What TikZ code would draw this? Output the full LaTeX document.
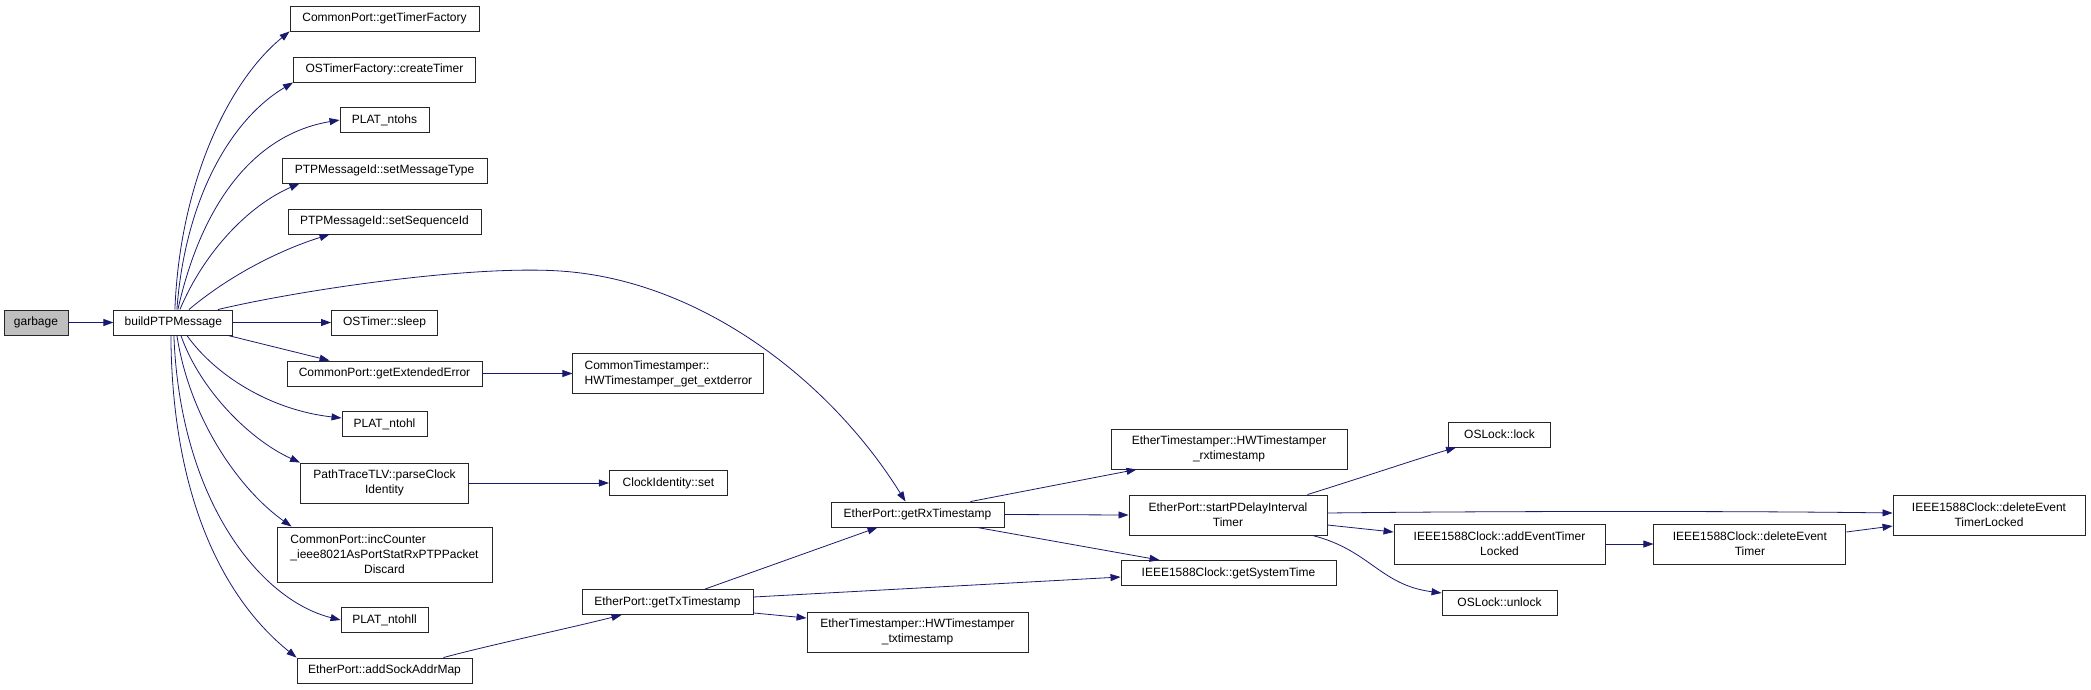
\documentclass[tikz,border=0pt]{standalone}
\usepackage{fontspec}
\setmainfont{Liberation Sans}
\usetikzlibrary{arrows.meta, positioning}

\definecolor{edgeblue}{HTML}{191970}
\definecolor{rootgray}{HTML}{BFBFBF}

\begin{document}
\begin{tikzpicture}[
    x=1pt, y=-1pt,
    box/.style={
        rectangle,
        draw=black!85,
        line width=0.9pt,
        align=center,
        inner sep=2pt,
        minimum height=25pt,
        font=\fontsize{12}{15}\selectfont
    },
    tallbox/.style={
        box,
        minimum height=40pt
    },
    arrow/.style={
        draw=edgeblue,
        line width=0.8pt,
        -{Triangle[length=10pt,width=7pt]}
    }
]

\useasboundingbox (0,0) rectangle (2091,689);

% ------------------------------------------------
% Caller and first callee
% ------------------------------------------------

\node[box, fill=rootgray, minimum width=64pt] (garbage) at (36,322.5) {garbage};

\node[box, minimum width=119pt, right=45pt of garbage] (build) {buildPTPMessage};

% ------------------------------------------------
% Functions called by buildPTPMessage
% ------------------------------------------------

\node[box, minimum width=189pt] (timerfac) at (384.5,18.5) {CommonPort::getTimerFactory};
\node[box, minimum width=182pt] (createtimer) at (384.5,69.5) {OSTimerFactory::createTimer};
\node[box, minimum width=89pt] (ntohs) at (384.5,120) {PLAT\_ntohs};
\node[box, minimum width=205pt] (msgtype) at (384.5,170.5) {PTPMessageId::setMessageType};
\node[box, minimum width=193pt] (seqid) at (384.5,221.5) {PTPMessageId::setSequenceId};
\node[box, minimum width=106pt] (sleep) at (384.5,322.5) {OSTimer::sleep};
\node[box, minimum width=195pt] (exterror) at (384.5,373.5) {CommonPort::getExtendedError};
\node[box, minimum width=85pt] (ntohl) at (384.5,424) {PLAT\_ntohl};

\node[tallbox, minimum width=168pt] (parseclock) at (384.5,483) {
    PathTraceTLV::parseClock\\
    Identity
};

\node[box, minimum width=215pt, minimum height=55pt] (inccounter) at (384.5,554.5) {
    \rlap{CommonPort::incCounter}\phantom{\_ieee8021AsPortStatRxPTPPacket}\\
    \_ieee8021AsPortStatRxPTPPacket\\
    Discard
};

\node[box, minimum width=87pt] (ntohll) at (384.5,620) {PLAT\_ntohll};
\node[box, minimum width=175pt] (addsock) at (384.5,670.5) {EtherPort::addSockAddrMap};

% ------------------------------------------------
% Third rank
% ------------------------------------------------

\node[tallbox, align=left, minimum width=191pt, right=90pt of exterror] (extderror) {
    CommonTimestamper::\\
    HWTimestamper\_get\_extderror
};

\node[box, minimum width=118pt, right=140pt of parseclock] (clockset) {ClockIdentity::set};

\node[box, minimum width=171pt] (txts) at (667.5,602) {EtherPort::getTxTimestamp};

% ------------------------------------------------
% Timestamp functions
% ------------------------------------------------

\node[box, minimum width=173pt] (rxts) at (917.5,514.5) {EtherPort::getRxTimestamp};

\node[tallbox, minimum width=221pt] (hwtx) at (917.5,632) {
    EtherTimestamper::HWTimestamper\\
    \_txtimestamp
};

\node[tallbox, minimum width=236pt] (hwrx) at (1229,449) {
    EtherTimestamper::HWTimestamper\\
    \_rxtimestamp
};

\node[tallbox, minimum width=198pt] (pdelay) at (1228,515) {
    EtherPort::startPDelayInterval\\
    Timer
};

\node[box, minimum width=215pt] (systime) at (1228.5,573) {IEEE1588Clock::getSystemTime};

% ------------------------------------------------
% Locks and event timers
% ------------------------------------------------

\node[box, minimum width=102pt] (lock) at (1499.5,434.5) {OSLock::lock};

\node[tallbox, minimum width=211pt] (addevent) at (1499.5,544) {
    IEEE1588Clock::addEventTimer\\
    Locked
};

\node[box, minimum width=115pt] (unlock) at (1499.5,602.5) {OSLock::unlock};

\node[tallbox, minimum width=192pt, right=48pt of addevent] (delevent) {
    IEEE1588Clock::deleteEvent\\
    Timer
};

\node[tallbox, minimum width=192pt] (dellocked) at (1989,515) {
    IEEE1588Clock::deleteEvent\\
    TimerLocked
};

% ------------------------------------------------
% Arrows: straight calls
% ------------------------------------------------

\draw[arrow] (garbage) -- (build);
\draw[arrow] (build) -- (sleep);
\draw[arrow] (exterror) -- (extderror);
\draw[arrow] (parseclock) -- (clockset);
\draw[arrow] ([xshift=54.5pt]build.south) -- ([xshift=43pt]exterror.north west);

% ------------------------------------------------
% Arrows: fan out above buildPTPMessage
% ------------------------------------------------

\draw[arrow] ([xshift=1.5pt]build.north) .. controls (180,180) and (230,80) .. (timerfac.south west);
\draw[arrow] ([xshift=3.5pt]build.north) .. controls (185,200) and (230,120) .. (createtimer.south west);
\draw[arrow] ([xshift=4.5pt]build.north) .. controls (200,210) and (250,135) .. (ntohs.west);
\draw[arrow] ([xshift=6.5pt]build.north) .. controls (205,250) and (250,205) .. ([xshift=18pt]msgtype.south west);
\draw[arrow] ([xshift=15.5pt]build.north) .. controls (230,275) and (280,250) .. ([xshift=42pt]seqid.south west);

\draw[arrow] ([xshift=44.5pt]build.north) .. controls (300,290) and (470,265) .. (560,271)
    .. controls (700,280) and (830,380) .. ([xshift=-12pt]rxts.north);

% ------------------------------------------------
% Arrows: fan out below buildPTPMessage
% ------------------------------------------------

\draw[arrow] ([xshift=13.5pt]build.south) .. controls (215,375) and (270,410) .. ([yshift=6pt]ntohl.west);
\draw[arrow] ([xshift=7.5pt]build.south) .. controls (200,390) and (250,440) .. (parseclock.north west);
\draw[arrow] ([xshift=3.5pt]build.south) .. controls (190,420) and (240,490) .. ([xshift=15pt]inccounter.north west);
\draw[arrow] ([xshift=0.5pt]build.south) .. controls (180,500) and (260,600) .. (ntohll.west);
\draw[arrow] ([xshift=-2.5pt]build.south) .. controls (172,500) and (225,600) .. (addsock.north west);

% ------------------------------------------------
% Arrows: timestamp branch
% ------------------------------------------------

\draw[arrow] ([xshift=-29pt]addsock.north east) .. controls (490,645) and (570,628) .. ([xshift=40pt]txts.south west);
\draw[arrow] ([xshift=37.5pt]txts.north) -- ([xshift=-40pt]rxts.south);
\draw[arrow] ([yshift=5pt]txts.east) -- ([yshift=-4pt]systime.west);
\draw[arrow] ([yshift=2pt]txts.south east) -- ([yshift=14pt]hwtx.west);

\draw[arrow] ([xshift=-34pt]rxts.north east) -- ([xshift=26pt]hwrx.south west);
\draw[arrow] (rxts.east) -- (pdelay.west);
\draw[arrow] ([xshift=59.5pt]rxts.south) -- ([xshift=39pt]systime.north west);

% ------------------------------------------------
% Arrows: interval timer
% ------------------------------------------------

\draw[arrow] ([xshift=-20pt]pdelay.north east) .. controls (1370,475) and (1420,458) .. ([xshift=8pt]lock.south west);
\draw[arrow] ([yshift=2pt]pdelay.east) .. controls (1500,511) and (1750,511) .. ([yshift=2pt]dellocked.west);
\draw[arrow] ([yshift=-10pt]pdelay.east) -- ([yshift=12pt]addevent.west);
\draw[arrow] ([xshift=-15pt]pdelay.south east) .. controls (1370,550) and (1380,585) .. ([yshift=9.5pt]unlock.west);

\draw[arrow] (addevent.east) -- (delevent.west);
\draw[arrow] ([yshift=12pt]delevent.east) -- ([yshift=-11pt]dellocked.west);

\end{tikzpicture}
\end{document}
